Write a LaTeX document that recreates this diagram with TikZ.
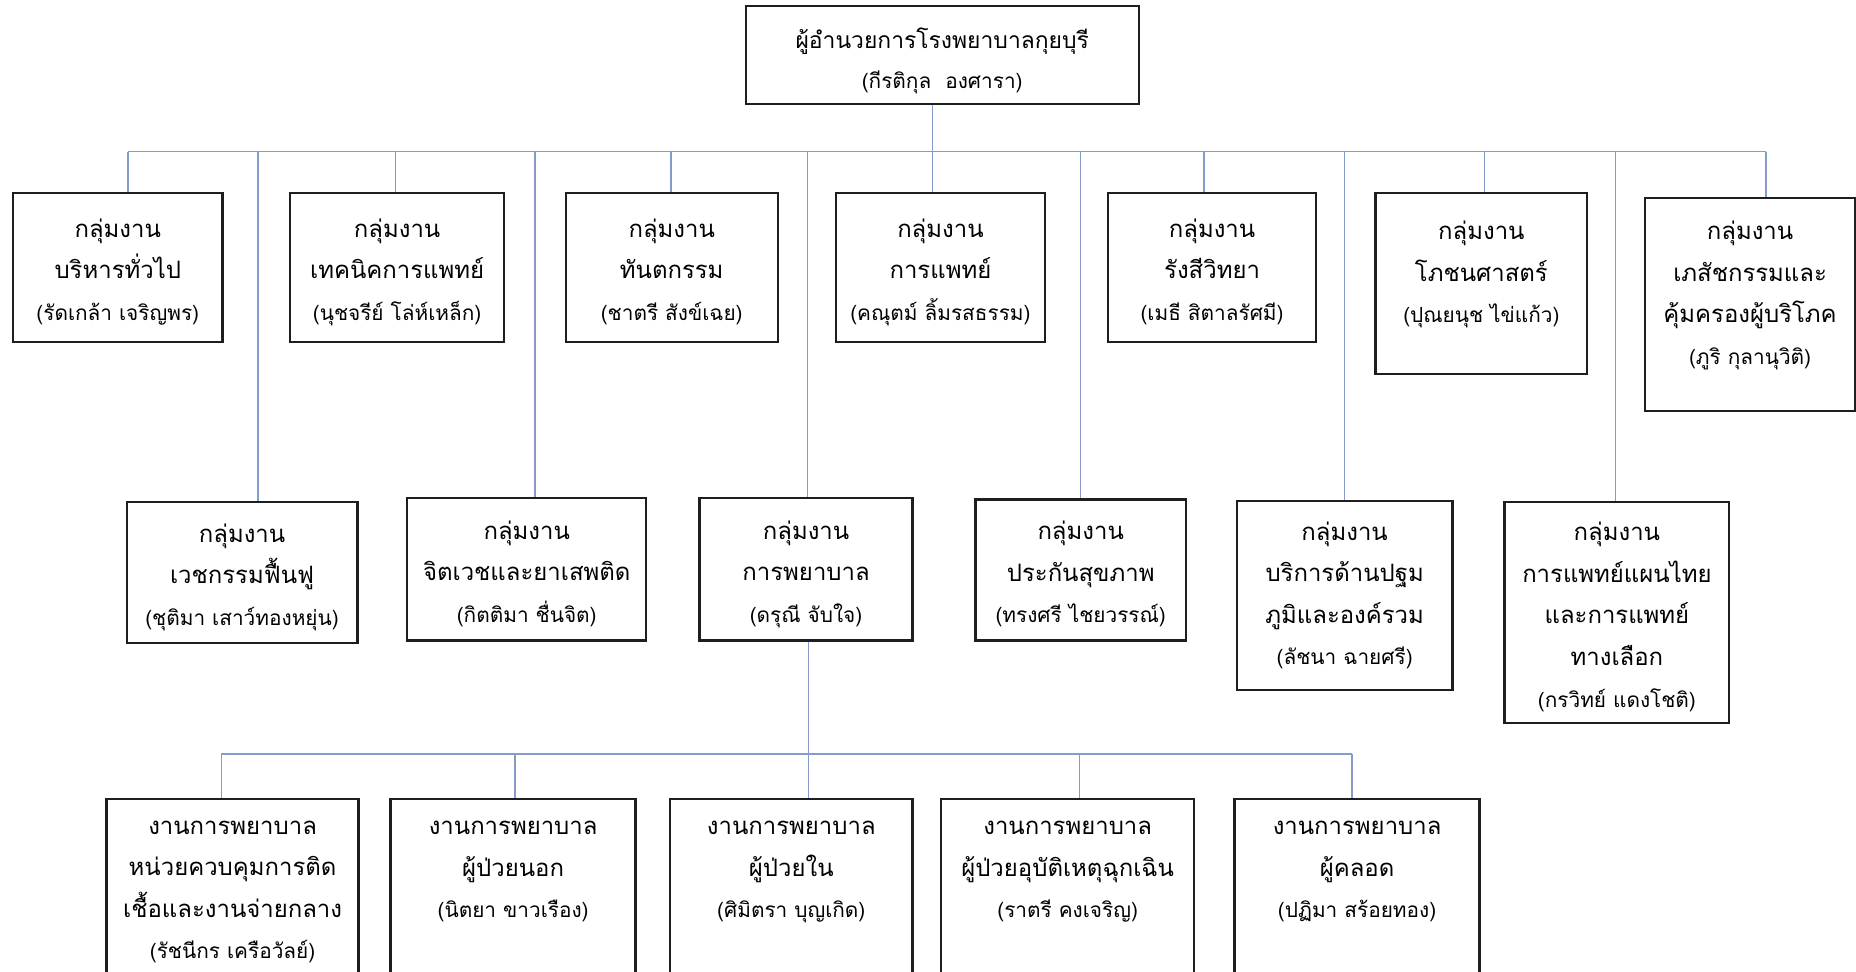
\documentclass[tikz,border=0pt]{standalone}
\usepackage{fontspec}
\setmainfont{Loma}[Script=Thai]
\usepackage{tikz}
\usetikzlibrary{positioning}

\definecolor{linkblue}{RGB}{132,155,204}
\definecolor{boxline}{RGB}{30,30,30}

\tikzset{
  unit/.style={draw=boxline, line width=1.1pt, align=center, inner sep=0pt,
    font=\fontsize{11.5}{20}\selectfont},
  link/.style={draw=linkblue, line width=0.7pt},
}
\newcommand{\staffname}[1]{{\fontsize{10}{20}\selectfont #1}}

\begin{document}
\begin{tikzpicture}[x=0.02cm,y=-0.02cm]
\useasboundingbox (0,0) rectangle (1568,821);
\clip (0,0) rectangle (1568,821);
\fill[white] (0,0) rectangle (1568,821);

% director
\node[unit, minimum width=6.64cm, minimum height=1.66cm, font=\fontsize{11}{19}\selectfont] (director) at (796,46.5)
  {ผู้อำนวยการโรงพยาบาลกุยบุรี\\\staffname{(กีรติกุล\ \ องศารา)}\\[-22pt]};

% first row of groups
\node[unit, minimum width=3.54cm, minimum height=2.52cm] (general) at (99.5,226)
  {กลุ่มงาน\\บริหารทั่วไป\\\staffname{(รัดเกล้า เจริญพร)}\\[-22pt]};
\node[unit, minimum width=3.62cm, minimum height=2.52cm] (medtech) at (335.5,226)
  {กลุ่มงาน\\เทคนิคการแพทย์\\\staffname{(นุชจรีย์ โล่ห์เหล็ก)}\\[-22pt]};
\node[unit, minimum width=3.58cm, minimum height=2.52cm] (dental) at (567.5,226)
  {กลุ่มงาน\\ทันตกรรม\\\staffname{(ชาตรี สังข์เฉย)}\\[-22pt]};
\node[unit, minimum width=3.54cm, minimum height=2.52cm] (medical) at (794.5,226)
  {กลุ่มงาน\\การแพทย์\\\staffname{(คณุตม์ ลิ้มรสธรรม)}\\[-22pt]};
\node[unit, minimum width=3.52cm, minimum height=2.52cm] (radiology) at (1024,226)
  {กลุ่มงาน\\รังสีวิทยา\\\staffname{(เมธี สิตาลรัศมี)}\\[-22pt]};
\node[unit, minimum width=3.58cm, minimum height=3.06cm] (nutrition) at (1251.5,239.5)
  {กลุ่มงาน\\โภชนศาสตร์\\\staffname{(ปุณยนุช ไข่แก้ว)}\\[-9pt]};
\node[unit, minimum width=3.54cm, minimum height=3.6cm] (pharmacy) at (1478.5,257)
  {กลุ่มงาน\\เภสัชกรรมและ\\คุ้มครองผู้บริโภค\\\staffname{(ภูริ กุลานุวิติ)}\\[-9pt]};

% second row of groups
\node[unit, minimum width=3.9cm, minimum height=2.38cm] (rehab) at (204.5,483.5)
  {กลุ่มงาน\\เวชกรรมฟื้นฟู\\\staffname{(ชุติมา เสาว์ทองหยุ่น)}\\[-22pt]};
\node[unit, minimum width=4.04cm, minimum height=2.4cm] (psych) at (445,481)
  {กลุ่มงาน\\จิตเวชและยาเสพติด\\\staffname{(กิตติมา ชื่นจิต)}\\[-22pt]};
\node[unit, minimum width=3.6cm, minimum height=2.4cm] (nursing) at (681,481)
  {กลุ่มงาน\\การพยาบาล\\\staffname{(ดรุณี จับใจ)}\\[-22pt]};
\node[unit, minimum width=3.56cm, minimum height=2.38cm] (insurance) at (913,481.5)
  {กลุ่มงาน\\ประกันสุขภาพ\\\staffname{(ทรงศรี ไชยวรรณ์)}\\[-22pt]};
\node[unit, minimum width=3.64cm, minimum height=3.2cm] (primary) at (1136,503)
  {กลุ่มงาน\\บริการด้านปฐม\\ภูมิและองค์รวม\\\staffname{(ลัชนา ฉายศรี)}};
\node[unit, minimum width=3.8cm, minimum height=3.74cm] (thaimed) at (1366,517.5)
  {กลุ่มงาน\\การแพทย์แผนไทย\\และการแพทย์\\ทางเลือก\\\staffname{(กรวิทย์ แดงโชติ)}\\[-22pt]};

% nursing units
\node[unit, minimum width=4.26cm, minimum height=3.1cm] (infection) at (196.5,752.5)
  {งานการพยาบาล\\หน่วยควบคุมการติด\\เชื้อและงานจ่ายกลาง\\\staffname{(รัชนีกร เครือวัลย์)}\\[-19pt]};
\node[unit, minimum width=4.14cm, minimum height=3.1cm] (opd) at (433.5,752.5)
  {งานการพยาบาล\\ผู้ป่วยนอก\\\staffname{(นิตยา ขาวเรือง)}\\[0.6pt]};
\node[unit, minimum width=4.1cm, minimum height=3.1cm] (ipd) at (668.5,752.5)
  {งานการพยาบาล\\ผู้ป่วยใน\\\staffname{(ศิมิตรา บุญเกิด)}\\[0.6pt]};
\node[unit, minimum width=4.28cm, minimum height=3.1cm] (emergency) at (902,752.5)
  {งานการพยาบาล\\ผู้ป่วยอุบัติเหตุฉุกเฉิน\\\staffname{(ราตรี คงเจริญ)}\\[0.6pt]};
\node[unit, minimum width=4.14cm, minimum height=3.1cm] (labour) at (1146.5,752.5)
  {งานการพยาบาล\\ผู้คลอด\\\staffname{(ปฏิมา สร้อยทอง)}\\[0.6pt]};

% upper bus
\coordinate (u0) at (788,128);
\coordinate (u1) at (108,128);
\coordinate (u2) at (334,128);
\coordinate (u3) at (567,128);
\coordinate (u4) at (1017,128);
\coordinate (u5) at (1254,128);
\coordinate (u6) at (1492,128);
\coordinate (u7) at (218,128);
\coordinate (u8) at (452,128);
\coordinate (u9) at (682,128);
\coordinate (u10) at (913,128);
\coordinate (u11) at (1136,128);
\coordinate (u12) at (1365,128);
\draw[link] (u1) -- (u6);
\draw[link] (director.south -| u0) -- (u0) -- (u0 |- medical.north);
\draw[link] (u1) -- (u1 |- general.north);
\draw[link] (u2) -- (u2 |- medtech.north);
\draw[link] (u3) -- (u3 |- dental.north);
\draw[link] (u4) -- (u4 |- radiology.north);
\draw[link] (u5) -- (u5 |- nutrition.north);
\draw[link] (u6) -- (u6 |- pharmacy.north);
\draw[link] (u7) -- (u7 |- rehab.north);
\draw[link] (u8) -- (u8 |- psych.north);
\draw[link] (u9) -- (u9 |- nursing.north);
\draw[link] (u10) -- (u10 |- insurance.north);
\draw[link] (u11) -- (u11 |- primary.north);
\draw[link] (u12) -- (u12 |- thaimed.north);

% lower bus
\coordinate (l0) at (683,637);
\coordinate (l1) at (187,637);
\coordinate (l2) at (435,637);
\coordinate (l3) at (912,637);
\coordinate (l4) at (1142,637);
\draw[link] (l1) -- (l4);
\draw[link] (nursing.south -| l0) -- (l0) -- (l0 |- ipd.north);
\draw[link] (l1) -- (l1 |- infection.north);
\draw[link] (l2) -- (l2 |- opd.north);
\draw[link] (l3) -- (l3 |- emergency.north);
\draw[link] (l4) -- (l4 |- labour.north);

\end{tikzpicture}
\end{document}
